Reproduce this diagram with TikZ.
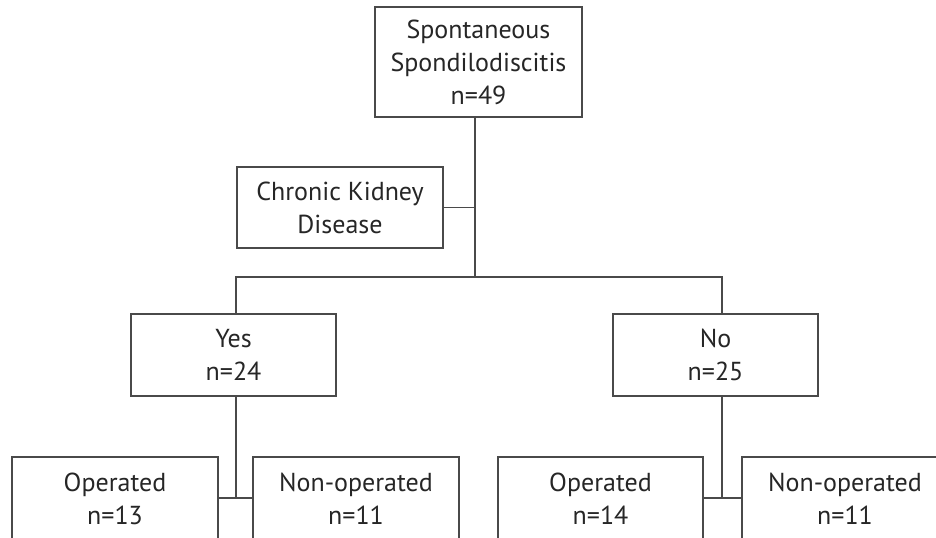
\documentclass[tikz,border=0pt]{standalone}
\usepackage{fontspec}
\setmainfont{PT Sans}
\definecolor{linegray}{HTML}{4A4A4A}
\definecolor{textgray}{HTML}{262626}
\begin{document}
\begin{tikzpicture}[x=0.75pt,y=-0.75pt,
  box/.style={draw=linegray,line width=0.8pt,rectangle,inner sep=0pt,align=center,
    text=textgray,font=\fontsize{19.5}{24.75}\selectfont},
  link/.style={draw=linegray,line width=0.8pt}]
\useasboundingbox (0,0) rectangle (936,537);
\begin{scope}
\clip (0,0) rectangle (936,537);
\node[box,minimum width=207*0.75pt,minimum height=110*0.75pt] (top) at (478.5,62) {Spontaneous\\Spondilodiscitis\\n=49};
\node[box,minimum width=206*0.75pt,minimum height=81*0.75pt] (ckd) at (340,207.5) {Chronic Kidney\\Disease};
\node[box,minimum width=205*0.75pt,minimum height=82*0.75pt] (yes) at (233.5,355) {Yes\\n=24};
\node[box,minimum width=205*0.75pt,minimum height=82*0.75pt] (no) at (715.5,355) {No\\n=25};
\node[box,minimum width=206*0.75pt,minimum height=84*0.75pt] (op1) at (115,499) {Operated\\n=13};
\node[box,minimum width=206*0.75pt,minimum height=84*0.75pt] (non1) at (356,499) {Non-operated\\n=11};
\node[box,minimum width=205*0.75pt,minimum height=84*0.75pt] (op2) at (600.5,499) {Operated\\n=14};
\node[box,minimum width=206*0.75pt,minimum height=84*0.75pt] (non2) at (845,499) {Non-operated\\n=11};
\coordinate (j1) at (475,277);
\coordinate (bl) at (236,277);
\coordinate (br) at (722,277);
\draw[link] (top.south -| j1) -- (j1);
\draw[link] (ckd.east) -- (ckd.east -| j1);
\draw[link] (yes.north -| bl) -- (bl) -- (br) -- (no.north -| br);
\draw[link] (yes.south -| bl) -- (bl |- 0,498);
\draw[link] (op1.east |- 0,498) -- (non1.west |- 0,498);
\draw[link] (no.south -| br) -- (br |- 0,498);
\draw[link] (op2.east |- 0,498) -- (non2.west |- 0,498);
\end{scope}
\end{tikzpicture}
\end{document}
